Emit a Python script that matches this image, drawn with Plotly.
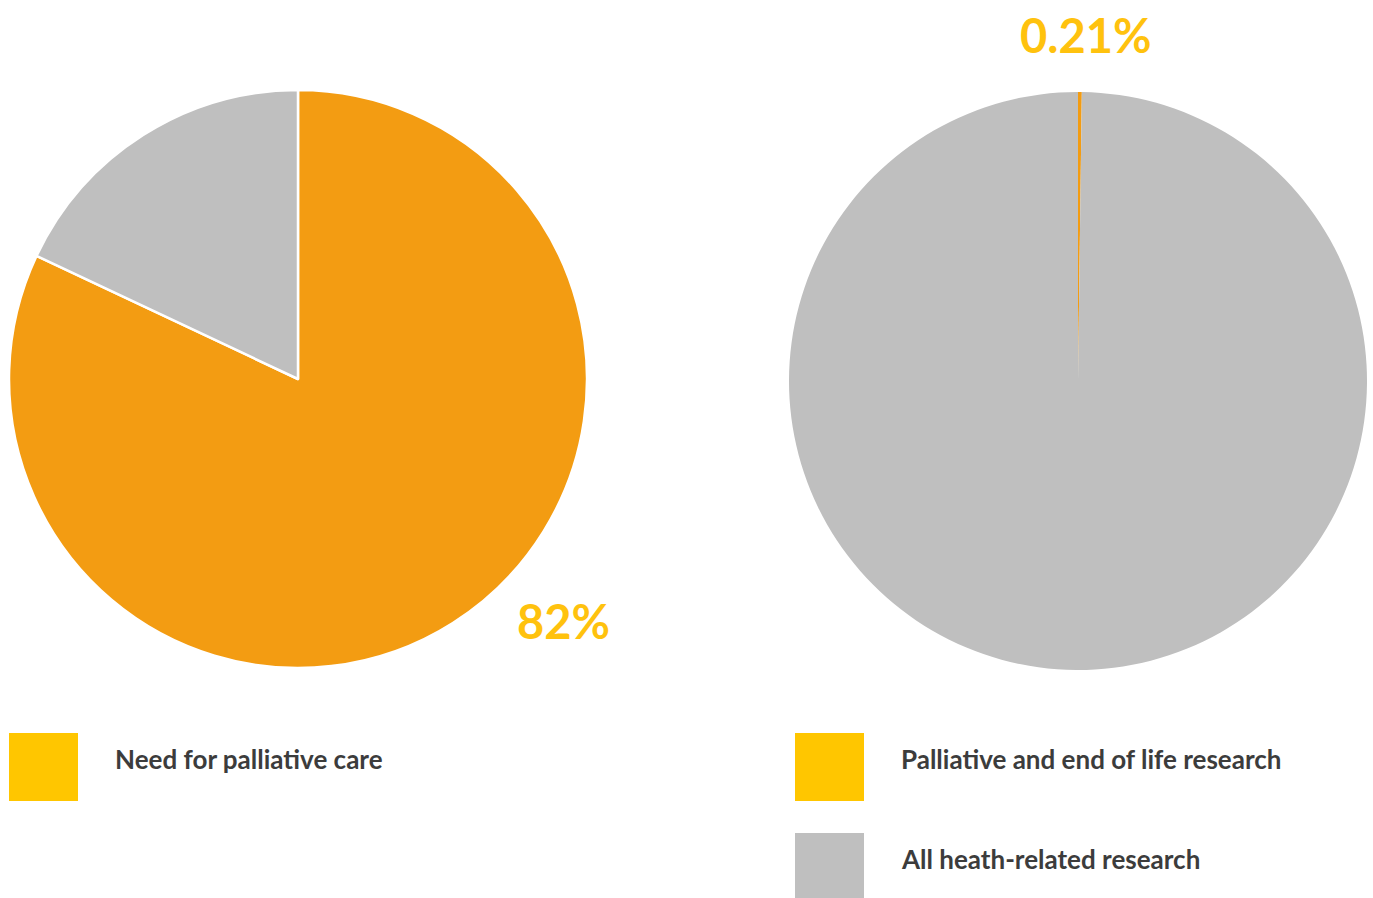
import plotly.graph_objects as go

W, H = 1373, 898

left_labels = ["Need for palliative care", "Other"]
left_values = [82, 18]
right_labels = ["Palliative and end of life research", "All heath-related research"]
right_values = [0.21, 99.79]

PIE_ORANGE = "#F39C12"
PIE_GRAY = "#BFBFBF"
LEG_YELLOW = "#FFC600"
LABEL_YELLOW = "#FFC20E"
TEXT = "#3C3C3C"
FONT = "Lato"

def px(x):
    return x / W

def py(y):
    return 1 - y / H

fig = go.Figure()
fig.add_trace(go.Pie(
    labels=left_labels, values=left_values, sort=False, direction="clockwise", rotation=0,
    marker=dict(colors=[PIE_ORANGE, PIE_GRAY], line=dict(color="white", width=2.5)),
    textinfo="none", hoverinfo="label+percent", showlegend=False,
    domain=dict(x=[px(9), px(587)], y=[py(668), py(90)]),
))
fig.add_trace(go.Pie(
    labels=right_labels, values=right_values, sort=False, direction="clockwise", rotation=0,
    marker=dict(colors=[PIE_ORANGE, PIE_GRAY], line=dict(color="white", width=0)),
    textinfo="none", hoverinfo="label+percent", showlegend=False,
    domain=dict(x=[px(789), px(1367)], y=[py(670), py(92)]),
))

shapes = []
annots = []

def legend_item(x0, y0, y1, color, text):
    shapes.append(dict(type="rect", xref="paper", yref="paper",
                       x0=px(x0), x1=px(x0 + 69), y0=py(y1), y1=py(y0),
                       fillcolor=color, line=dict(width=0)))
    annots.append(dict(xref="paper", yref="paper", x=px(x0 + 104), y=py((y0 + y1) / 2 - 8),
                       xanchor="left", yanchor="middle", showarrow=False, text=text,
                       font=dict(family=FONT, size=26, color=TEXT, weight="bold")))

legend_item(9, 733, 801, LEG_YELLOW, left_labels[0])
legend_item(795, 733, 801, LEG_YELLOW, right_labels[0])
legend_item(795, 833, 901, PIE_GRAY, right_labels[1])

annots.append(dict(xref="paper", yref="paper", x=px(563), y=py(621), xanchor="center", yanchor="middle",
                   showarrow=False, text=f"{left_values[0]:g}%",
                   font=dict(family=FONT, size=47, color=LABEL_YELLOW, weight="bold")))
annots.append(dict(xref="paper", yref="paper", x=px(1085), y=py(35), xanchor="center", yanchor="middle",
                   showarrow=False, text=f"{right_values[0]:g}%",
                   font=dict(family=FONT, size=47, color=LABEL_YELLOW, weight="bold")))

fig.update_layout(
    width=W, height=H, margin=dict(l=0, r=0, t=0, b=0),
    paper_bgcolor="white", plot_bgcolor="white",
    shapes=shapes, annotations=annots, showlegend=False,
)
fig.write_html("out.html")
